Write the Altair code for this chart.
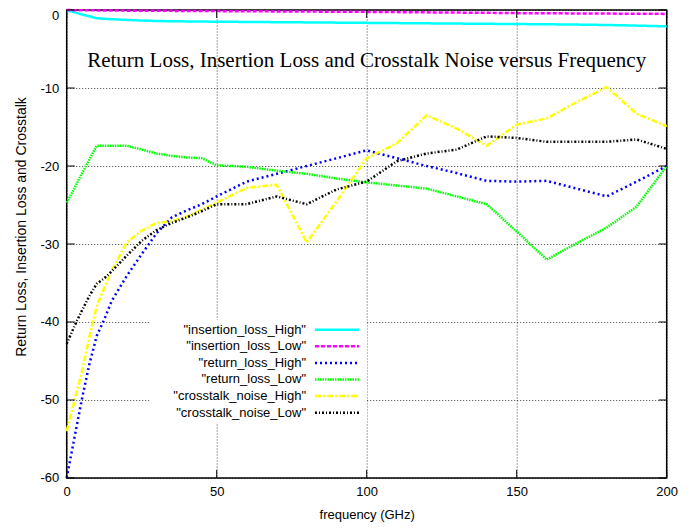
import altair as alt
import pandas as pd

freq = [0, 2.5, 5, 7.5, 10, 12.5, 15, 20, 25, 30, 35, 40, 45, 50, 60, 70, 80, 90,
        100, 110, 120, 130, 140, 150, 160, 170, 180, 190, 200]

insertion_loss_High = [-0.05, -0.3, -0.55, -0.8, -1.05, -1.12, -1.18, -1.27, -1.35, -1.41, -1.44, -1.46, -1.48, -1.5,
                       -1.53, -1.56, -1.59, -1.62, -1.65, -1.68, -1.71, -1.74, -1.77, -1.8, -1.83, -1.87, -1.92, -2.0, -2.1]
insertion_loss_Low = [0.0, -0.02, -0.03, -0.04, -0.05, -0.06, -0.07, -0.08, -0.09, -0.1, -0.11, -0.12, -0.13, -0.14,
                      -0.16, -0.18, -0.2, -0.22, -0.24, -0.27, -0.3, -0.33, -0.36, -0.4, -0.42, -0.44, -0.46, -0.48, -0.5]
return_loss_High = [-60, -55, -50, -45.5, -41.8, -39.7, -37.3, -34.1, -31.3, -28.6, -26.6, -25.7, -24.9, -23.9,
                    -22, -21, -20, -19, -18, -19, -20, -20.9, -21.9, -22, -21.9, -22.9, -23.9, -22, -20]
return_loss_Low = [-24.7, -22.9, -21.0, -19.2, -17.4, -17.4, -17.4, -17.4, -17.9, -18.4, -18.7, -18.9, -19.0, -19.9,
                   -20.1, -20.6, -21.0, -21.6, -22.1, -22.5, -22.9, -23.9, -24.9, -28.4, -32, -29.9, -27.9, -25.2, -20]
crosstalk_noise_High = [-54, -50.2, -46.5, -42, -38, -35.6, -33.4, -29.8, -28.3, -27.3, -27.1, -26.5, -25.6, -24.7,
                        -22.8, -22.4, -29.8, -24.5, -19, -17.1, -13.5, -15.2, -17.4, -14.7, -13.9, -11.8, -9.9, -13.3, -14.9]
crosstalk_noise_Low = [-42.8, -40.6, -38.6, -36.7, -35.1, -34.4, -33.5, -31.5, -29.6, -28.2, -27.3, -26.6, -25.8, -24.9,
                       -24.9, -23.9, -24.9, -23, -22, -19.4, -18.4, -17.9, -16.2, -16.4, -16.9, -16.9, -16.9, -16.6, -17.8]

series_names = ["insertion_loss_High", "insertion_loss_Low", "return_loss_High",
                "return_loss_Low", "crosstalk_noise_High", "crosstalk_noise_Low"]
series_values = [insertion_loss_High, insertion_loss_Low, return_loss_High,
                 return_loss_Low, crosstalk_noise_High, crosstalk_noise_Low]
colors = ["#00ffff", "#ff00ff", "#0000ff", "#00ff00", "#ffff00", "#000000"]
dashes = [[1, 0], [4, 2], [2, 3], [1.5, 1], [6, 2, 2, 2], [2, 2, 1, 2]]

x_ticks = [0, 50, 100, 150, 200]
y_ticks = [-60, -50, -40, -30, -20, -10, 0]

X_TITLE = "frequency (GHz)"
Y_TITLE = "Return Loss, Insertion Loss and Crosstalk"

rows = []
for name, vals in zip(series_names, series_values):
    for f, v in zip(freq, vals):
        rows.append({"freq": f, "value": v, "series": name})
df = pd.DataFrame(rows)
df_xt = pd.DataFrame({"freq": x_ticks})
df_yt = pd.DataFrame({"value": y_ticks})

FONT = "Liberation Sans"
W, H = 600, 468
TL = 8  # inward tick length

xscale = alt.Scale(domain=[0, 200], nice=False, zero=False)
yscale = alt.Scale(domain=[-60, 0], nice=False, zero=False)

legend = alt.Legend(
    title=None, orient="none", legendX=83.3, legendY=309.7,
    symbolType="M-4,0H4", symbolSize=121, symbolStrokeWidth=2.5, symbolOffset=177,
    labelAlign="right", labelOffset={"expr": "-38"}, labelFont=FONT, labelFontSize=13,
    labelColor="#000000", rowPadding=2.6, padding=3, offset=0, fillColor="#ffffff",
    labelExpr="'\"' + datum.label + '\"'", labelLimit=400,
)

lines = alt.Chart(df).mark_line(strokeWidth=2.5, clip=False).encode(
    x=alt.X("freq:Q", scale=xscale, title=X_TITLE,
            axis=alt.Axis(values=x_ticks, ticks=False, labelFlush=False,
                          labelPadding=8, titlePadding=10, domain=False,
                          grid=True, gridDash=[1, 2], gridColor="#000000", gridOpacity=0.75,
                          labelFont=FONT, labelFontSize=13, titleFont=FONT, titleFontSize=13,
                          titleFontWeight="normal", labelColor="#000000", titleColor="#000000")),
    y=alt.Y("value:Q", scale=yscale, title=Y_TITLE,
            axis=alt.Axis(values=y_ticks, ticks=False, labelFlush=False,
                          labelPadding=8, titlePadding=11, domain=False, titleY=216.5,
                          labelExpr="'' + datum.value",
                          labelOffset={"condition": {"test": "datum.value == 0", "value": 5}, "value": 0},
                          grid=True, gridDash=[1, 2], gridColor="#000000", gridOpacity=0.75,
                          labelFont=FONT, labelFontSize=13, titleFont=FONT, titleFontSize=14,
                          titleFontWeight="normal", labelColor="#000000", titleColor="#000000")),
    color=alt.Color("series:N", scale=alt.Scale(domain=series_names, range=colors), legend=legend),
    strokeDash=alt.StrokeDash("series:N", scale=alt.Scale(domain=series_names, range=dashes), legend=legend),
    order=alt.Order("freq:Q"),
)

tick_bottom = alt.Chart(df_xt).mark_rule(color="#000000", strokeWidth=1).encode(
    x=alt.X("freq:Q", scale=xscale, title=X_TITLE), y=alt.value(H), y2=alt.value(H - TL))
tick_top = alt.Chart(df_xt).mark_rule(color="#000000", strokeWidth=1).encode(
    x=alt.X("freq:Q", scale=xscale, title=X_TITLE), y=alt.value(0), y2=alt.value(TL))
tick_left = alt.Chart(df_yt).mark_rule(color="#000000", strokeWidth=1).encode(
    y=alt.Y("value:Q", scale=yscale, title=Y_TITLE), x=alt.value(0), x2=alt.value(TL))
tick_right = alt.Chart(df_yt).mark_rule(color="#000000", strokeWidth=1).encode(
    y=alt.Y("value:Q", scale=yscale, title=Y_TITLE), x=alt.value(W), x2=alt.value(W - TL))

chart = alt.layer(lines, tick_bottom, tick_top, tick_left, tick_right).properties(
    width=W, height=H,
    title=alt.TitleParams(
        text="Return Loss, Insertion Loss and Crosstalk Noise versus Frequency",
        font="Liberation Serif", fontSize=21, fontWeight="normal", color="#000000",
        anchor="middle", frame="group", offset=-66,
    ),
    autosize=alt.AutoSizeParams(type="none"),
    padding={"left": 58.7, "top": 2, "right": 20, "bottom": 50},
).configure_view(
    stroke="#000000", strokeWidth=1.5,
)

chart.save("out.html", embed_options={"renderer": "svg", "actions": False})
